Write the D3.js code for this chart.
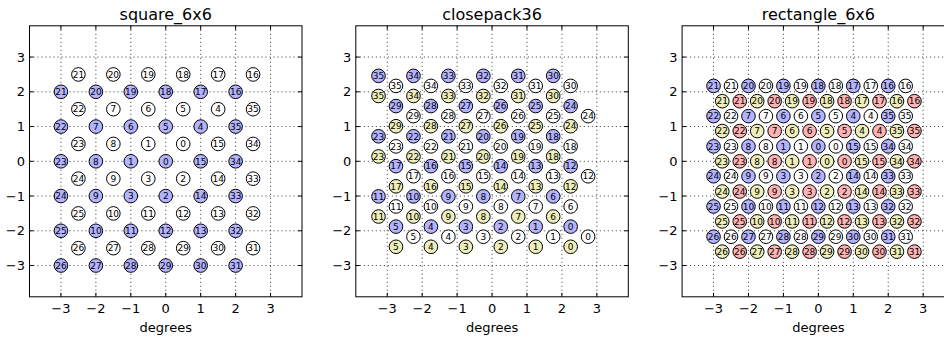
<!DOCTYPE html>
<html>
<meta charset="utf-8" />
<script src="https://d3js.org/d3.v7.min.js"></script>
<style>
  body { margin: 0; background: #fff; }
  text { font-family: "DejaVu Sans", sans-serif; }
</style>
<body>
<svg id="chart" width="944" height="339"></svg>
<script>
// panel titles and shared tick values
var titles = ["square_6x6", "closepack36", "rectangle_6x6"]
var ticks = [-3, -2, -1, 0, 1, 2, 3]

// fiber numbers, row by row (top row first)
var gridLabels = [
  [21, 20, 19, 18, 17, 16],
  [22, 7, 6, 5, 4, 35],
  [23, 8, 1, 0, 15, 34],
  [24, 9, 3, 2, 14, 33],
  [25, 10, 11, 12, 13, 32],
  [26, 27, 28, 29, 30, 31]
]
var packLabels = [
  [35, 34, 33, 32, 31, 30],
  [29, 28, 27, 26, 25, 24],
  [23, 22, 21, 20, 19, 18],
  [17, 16, 15, 14, 13, 12],
  [11, 10, 9, 8, 7, 6],
  [5, 4, 3, 2, 1, 0]
]

// square_6x6 positions (degrees)
var sqBlueX = [-3, -2, -1, 0, 1, 2]
var sqBlueY = [2, 1, 0, -1, -2, -3]
var sqWhiteX = [-2.5, -1.5, -0.5, 0.5, 1.5, 2.5]
var sqWhiteY = [2.5, 1.5, 0.5, -0.5, -1.5, -2.5]

// closepack36 positions: x differs on even / odd rows
var cpWhiteXEven = [-2.75, -1.75, -0.75, 0.25, 1.25, 2.25]
var cpWhiteXOdd = [-2.25, -1.25, -0.25, 0.75, 1.75, 2.75]
var cpWhiteY = [2.17, 1.3, 0.43, -0.43, -1.3, -2.17]
var cpBlueXEven = [-3.25, -2.25, -1.25, -0.25, 0.75, 1.75]
var cpBlueXOdd = [-2.75, -1.75, -0.75, 0.25, 1.25, 2.25]
var cpBlueY = [2.46, 1.59, 0.72, -0.14, -1.01, -1.88]
var cpYellowY = [1.88, 1.01, 0.14, -0.72, -1.59, -2.46]

// rectangle_6x6 positions
var rcBlueX = [-3, -2, -1, 0, 1, 2]
var rcWhiteX = [-2.5, -1.5, -0.5, 0.5, 1.5, 2.5]
var rcUpperY = [2.17, 1.3, 0.43, -0.43, -1.3, -2.17]
var rcYellowX = [-2.75, -1.75, -0.75, 0.25, 1.25, 2.25]
var rcRedX = [-2.25, -1.25, -0.25, 0.75, 1.75, 2.75]
var rcLowerY = [1.73, 0.87, 0, -0.87, -1.73, -2.6]

var blue = "#b3b3ff", white = "#ffffff", yellow = "#eeeebb", red = "#ffb3b3"

function points(xEven, xOdd, ys, labels) {
  var out = []
  ys.forEach(function(y, r) {
    var xs = r % 2 === 0 ? xEven : xOdd
    xs.forEach(function(x, c) {
      out.push({ x: x, y: y, label: labels[r][c] })
    })
  })
  return out
}

var panels = [
  [
    { fill: blue, pts: points(sqBlueX, sqBlueX, sqBlueY, gridLabels) },
    { fill: white, pts: points(sqWhiteX, sqWhiteX, sqWhiteY, gridLabels) }
  ],
  [
    { fill: blue, pts: points(cpBlueXEven, cpBlueXOdd, cpBlueY, packLabels) },
    { fill: white, pts: points(cpWhiteXEven, cpWhiteXOdd, cpWhiteY, packLabels) },
    { fill: yellow, pts: points(cpBlueXEven, cpBlueXOdd, cpYellowY, packLabels) }
  ],
  [
    { fill: blue, pts: points(rcBlueX, rcBlueX, rcUpperY, gridLabels) },
    { fill: white, pts: points(rcWhiteX, rcWhiteX, rcUpperY, gridLabels) },
    { fill: yellow, pts: points(rcYellowX, rcYellowX, rcLowerY, gridLabels) },
    { fill: red, pts: points(rcRedX, rcRedX, rcLowerY, gridLabels) }
  ]
]

var svg = d3.select("#chart")
var size = 272.5, top0 = 25.8, step = 326.3, left0 = 29.5
var radius = 0.195

panels.forEach(function(sets, i) {
  var x0 = left0 + i * step
  var x = d3.scaleLinear().domain([-3.9, 3.9]).range([x0, x0 + size])
  var y = d3.scaleLinear().domain([-3.9, 3.9]).range([top0 + size - 1.5, top0])
  var g = svg.append("g")

  // grid
  g.selectAll(".gx").data(ticks).enter().append("line")
    .attr("x1", d => x(d)).attr("x2", d => x(d))
    .attr("y1", y(3.9)).attr("y2", y(-3.9))
    .attr("stroke", "#000").attr("stroke-width", 0.8)
    .attr("stroke-dasharray", "1,3")
  g.selectAll(".gy").data(ticks).enter().append("line")
    .attr("y1", d => y(d)).attr("y2", d => y(d))
    .attr("x1", x(-3.9)).attr("x2", x(3.9))
    .attr("stroke", "#000").attr("stroke-width", 0.8)
    .attr("stroke-dasharray", "1,3")

  // circles
  var k = x(radius) - x(0)
  sets.forEach(function(s) {
    var node = g.append("g").selectAll("g").data(s.pts).enter().append("g")
      .attr("transform", d => "translate(" + x(d.x) + "," + y(d.y) + ")")
    node.append("circle").attr("r", k)
      .attr("fill", s.fill).attr("stroke", "#000").attr("stroke-width", 1)
    node.append("text").text(d => d.label)
      .attr("text-anchor", "middle").attr("dy", "0.36em")
      .attr("font-size", "9px").attr("fill", "#000")
  })

  // ticks inside on all sides
  var tl = 4
  ticks.forEach(function(t) {
    g.append("line").attr("x1", x(t)).attr("x2", x(t))
      .attr("y1", y(-3.9)).attr("y2", y(-3.9) - tl).attr("stroke", "#000")
    g.append("line").attr("x1", x(t)).attr("x2", x(t))
      .attr("y1", y(3.9)).attr("y2", y(3.9) + tl).attr("stroke", "#000")
    g.append("line").attr("y1", y(t)).attr("y2", y(t))
      .attr("x1", x(-3.9)).attr("x2", x(-3.9) + tl).attr("stroke", "#000")
    g.append("line").attr("y1", y(t)).attr("y2", y(t))
      .attr("x1", x(3.9)).attr("x2", x(3.9) - tl).attr("stroke", "#000")
  })

  // frame
  g.append("rect")
    .attr("x", x(-3.9)).attr("y", y(3.9))
    .attr("width", x(3.9) - x(-3.9)).attr("height", y(-3.9) - y(3.9))
    .attr("fill", "none").attr("stroke", "#000").attr("stroke-width", 1)

  // tick labels
  g.selectAll(".tx").data(ticks).enter().append("text")
    .attr("x", d => x(d)).attr("y", y(-3.9) + 16.5)
    .attr("text-anchor", "middle").attr("font-size", "13px")
    .text(d => d3.format("")(d).replace("-", "\u2212"))
  g.selectAll(".ty").data(ticks).enter().append("text")
    .attr("x", x(-3.9) - 4.5).attr("y", d => y(d)).attr("dy", "0.36em")
    .attr("text-anchor", "end").attr("font-size", "13px")
    .text(d => d3.format("")(d).replace("-", "\u2212"))

  // title and axis label
  g.append("text").attr("x", x(0)).attr("y", 19.5)
    .attr("text-anchor", "middle").attr("font-size", "16px")
    .text(titles[i])
  g.append("text").attr("x", x(0)).attr("y", 332)
    .attr("text-anchor", "middle").attr("font-size", "13px")
    .text("degrees")
})
</script>
</body>
</html>
